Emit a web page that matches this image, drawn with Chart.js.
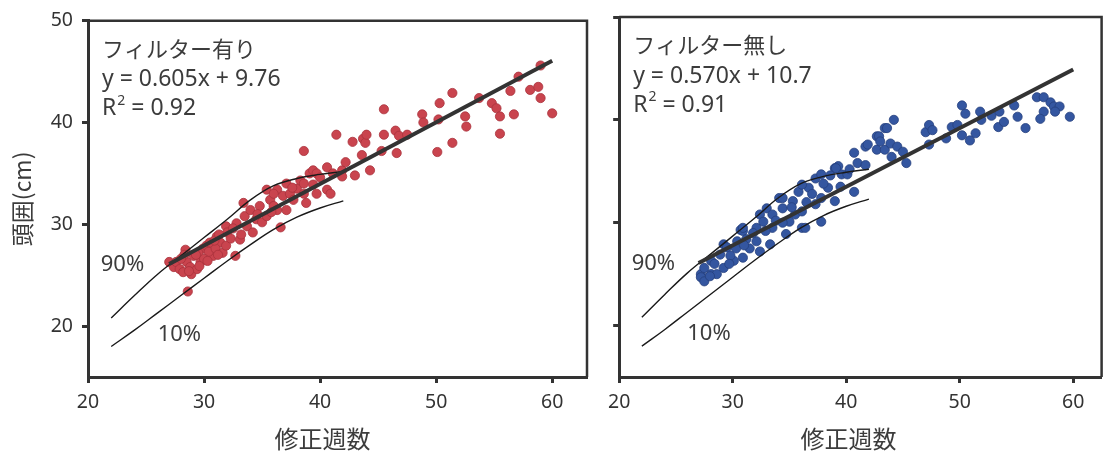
<!DOCTYPE html>
<html>
<head>
<meta charset="utf-8">
<script src="https://cdn.jsdelivr.net/npm/chart.js@4.4.0/dist/chart.umd.min.js"></script>
<style>
  html, body { margin: 0; padding: 0; background: #fff; overflow: hidden; width: 1107px; height: 454px; }
  #left { position: absolute; left: 0; top: 0; }
  #right { position: absolute; left: 600px; top: 0; }
</style>
</head>
<body>
<canvas id="left" width="600" height="454"></canvas>
<canvas id="right" width="507" height="454"></canvas>
<script>
// head circumference (cm) vs corrected weeks
const filterOnPoints = [
  [27.0,26.3],[27.4,25.8],[27.6,26.3],[27.9,25.6],[28.2,25.3],[28.4,27.5],[28.5,26.3],[28.3,27.0],
  [28.6,23.4],[28.8,25.8],[28.9,25.1],[29.1,26.9],[29.4,25.6],[29.7,26.3],[29.9,27.6],[29.5,27.2],
  [30.2,27.9],[30.5,28.2],[30.8,26.9],[30.4,27.3],[30.0,26.6],[31.1,28.8],[31.4,28.2],[31.0,27.6],
  [31.6,27.2],[31.9,29.8],[31.9,27.9],[32.0,29.2],[32.3,28.6],[32.8,30.1],[32.7,26.9],[33.1,28.5],
  [33.4,32.1],[33.7,29.8],[33.5,30.8],[34.0,31.4],[34.2,29.2],[34.5,30.5],[34.8,31.8],[35.0,30.2],
  [35.4,33.4],[35.4,30.8],[35.7,32.4],[36.0,31.8],[36.3,33.4],[36.3,31.4],[36.6,29.7],[36.8,32.8],
  [37.1,34.0],[37.1,31.4],[37.4,33.0],[37.7,32.4],[38.0,33.5],[38.3,34.3],[38.6,33.0],[38.6,34.0],
  [38.8,32.1],[39.1,35.0],[39.4,33.9],[39.4,35.3],[39.7,33.0],[39.7,35.0],[40.0,34.6],[40.6,35.6],
  [40.6,33.4],[40.9,33.0],[41.1,35.0],[41.9,35.3],[38.6,37.2],[41.4,38.8],[41.9,34.7],[42.2,36.1],
  [42.8,38.1],[43.0,34.8],[43.6,36.8],[43.7,38.4],[43.9,38.0],[44.0,38.8],[44.3,35.3],[45.3,37.2],
  [45.5,38.8],[45.5,41.3],[46.5,39.2],[46.6,37.0],[46.8,38.7],[47.5,38.8],[48.8,40.8],[48.9,40.0],
  [50.1,37.1],[50.2,40.3],[50.3,41.9],[51.4,42.9],[51.4,38.0],[52.5,40.6],[52.6,39.6],[53.7,42.4],
  [54.8,41.9],[55.2,41.4],[55.5,40.6],[55.5,38.9],[56.4,43.1],[56.7,40.8],[57.1,44.5],[58.1,43.2],
  [58.8,43.5],[59.0,42.4],[59.0,45.6],[60.0,40.9],
  [30.9,28.4],[32.5,29.6],[33.2,29.0],[34.6,31.0],[35.8,31.2],[36.0,33.0],[37.6,33.6],[31.3,29.0],
  [29.3,27.0],[28.0,26.6],[28.7,25.4],[29.6,25.9],[30.3,26.4],[31.2,27.0]
];

const filterOffPoints = [
  [27.2,25.0],[27.2,24.7],[27.5,24.3],[27.5,25.6],[28.1,26.3],[28.1,25.0],[28.6,25.0],[28.9,26.9],
  [29.2,25.6],[29.2,27.9],[29.5,27.6],[30.1,26.3],[30.4,28.2],[30.7,29.3],[30.9,29.2],[30.9,26.6],
  [30.9,29.5],[31.5,27.5],[32.1,29.5],[32.1,28.2],[32.4,27.2],[32.4,30.8],[32.7,30.1],[33.0,31.4],
  [33.3,27.9],[33.5,30.8],[33.5,29.5],[34.1,32.4],[34.4,31.4],[34.7,28.9],[35.0,30.1],[35.3,32.1],
  [35.5,30.8],[35.8,33.0],[36.1,31.1],[36.1,29.5],[36.4,29.5],[36.7,33.4],[37.3,34.3],[37.3,31.8],
  [37.8,32.4],[37.8,30.1],[38.4,33.4],[39.0,32.1],[39.0,35.3],[39.3,35.5],[39.6,34.7],[40.1,34.7],
  [40.7,33.0],[40.7,36.8],[41.0,35.8],[41.7,37.4],[42.7,38.4],[39.1,35.3],[41.9,37.6],[41.7,35.6],
  [42.7,37.1],[42.9,38.4],[43.0,37.9],[43.4,37.1],[43.4,39.2],[43.6,39.2],[43.9,37.7],[44.0,36.4],
  [44.2,40.0],[44.5,37.4],[45.0,36.9],[45.3,35.8],[47.0,38.8],[47.3,39.5],[47.6,39.0],[47.3,37.6],
  [48.8,38.2],[49.3,39.3],[49.8,39.5],[50.2,41.4],[50.5,40.6],[50.2,38.5],[50.9,38.0],[51.4,38.7],
  [51.8,40.8],[51.9,40.0],[52.8,40.4],[53.4,39.3],[53.5,40.8],[53.9,39.8],[54.8,41.4],[55.1,40.3],
  [55.8,39.2],[56.8,42.2],[57.4,42.2],[58.0,41.7],[58.3,41.3],[58.8,41.3],[58.4,40.8],[57.4,40.8],
  [57.1,40.1],[59.7,40.3],
  [28.4,26.0],[29.8,26.8],[30.3,27.5],[31.2,28.4],[31.8,29.0],[32.9,29.2],[33.8,30.2],[34.4,30.0],
  [35.2,31.5],[36.5,32.0],[37.0,32.8],[38.0,33.8],[38.6,34.6],[39.5,33.5],[40.3,35.2],[29.7,26.0],
  [28.0,24.8],[31.0,27.8],[34.4,32.4],[36.1,33.7],[37.8,34.7]
];

// reference percentile curves
const percentileWeeks = [22, 24, 26, 28, 30, 32, 34, 36, 38, 40, 42];
const percentile90 = [20.8, 23.0, 25.1, 26.9, 28.7, 30.5, 32.4, 33.8, 34.5, 34.9, 35.2];
const percentile10 = [18.0, 19.6, 21.3, 23.0, 24.7, 26.4, 28.0, 29.5, 30.7, 31.6, 32.3];

// regression lines
const fitRange = [27, 60];
const fitSlope = [0.605, 0.570];
const fitIntercept = [9.76, 10.7];

const panelTitles = ['フィルター有り', 'フィルター無し'];
const equationLabels = ['y = 0.605x + 9.76', 'y = 0.570x + 10.7'];
const r2Labels = ['0.92', '0.91'];
const xTicks = [20, 30, 40, 50, 60];
const yTicks = [20, 30, 40, 50];

const INK = '#333';
const TXT = '#3c3c3c';
const LATIN = '"Noto Sans", "Open Sans", sans-serif';
const CJK = '"Noto Sans CJK JP", "Noto Sans", sans-serif';

const toXY = pts => pts.map(p => ({ x: p[0], y: p[1] }));
const curve = vals => percentileWeeks.map((w, i) => ({ x: w, y: vals[i] }));

const panelDecor = {
  id: 'panelDecor',
  afterDatasetsDraw(chart, args, o) {
    const { ctx, chartArea: a, scales: { x, y } } = chart;
    ctx.save();
    ctx.strokeStyle = INK;
    ctx.lineWidth = 2.5;
    ctx.beginPath();
    ctx.moveTo(a.left, a.top);
    ctx.lineTo(a.right, a.top);
    ctx.lineTo(a.right, a.bottom);
    ctx.stroke();

    ctx.fillStyle = TXT;
    ctx.textBaseline = 'middle';
    ctx.textAlign = 'left';
    const tx = a.left + 14;
    ctx.font = '22px ' + CJK;
    ctx.fillText(o.title, tx, a.top + 28);
    ctx.font = '23px ' + LATIN;
    ctx.fillText(o.eq, tx, a.top + 59);
    ctx.fillText('R', tx, a.top + 88);
    let w = ctx.measureText('R').width;
    ctx.font = '14px ' + LATIN;
    ctx.fillText('2', tx + w + 1, a.top + 80);
    w += ctx.measureText('2').width + 1;
    ctx.font = '23px ' + LATIN;
    ctx.fillText(' = ' + o.r2, tx + w, a.top + 88);

    ctx.font = '22px ' + LATIN;
    ctx.fillText('90%', x.getPixelForValue(21.1), y.getPixelForValue(26.0));
    ctx.fillText('10%', x.getPixelForValue(26.0), y.getPixelForValue(19.2));

    ctx.font = '24px ' + CJK;
    ctx.textAlign = 'center';
    ctx.fillText('修正週数', x.getPixelForValue(40.2), 439);
    ctx.restore();
  }
};

function makePanel(id, idx, points, color, edge, showYLabels) {
  const a = fitSlope[idx], b = fitIntercept[idx];
  const fit = fitRange.map(v => ({ x: v, y: a * v + b }));
  new Chart(document.getElementById(id), {
    type: 'scatter',
    data: {
      datasets: [
        { data: fit, showLine: true, borderColor: INK, borderWidth: 4, pointRadius: 0 },
        { data: curve(percentile90), showLine: true, borderColor: '#1a1a1a', borderWidth: 1.4, pointRadius: 0, tension: 0.4 },
        { data: curve(percentile10), showLine: true, borderColor: '#1a1a1a', borderWidth: 1.4, pointRadius: 0, tension: 0.4 },
        { data: toXY(points), backgroundColor: color, borderColor: edge, borderWidth: 0.8, pointRadius: 4.6 }
      ]
    },
    options: {
      responsive: false,
      animation: false,
      layout: { padding: { left: 0, right: showYLabels ? 13 : 1, top: 17, bottom: 0 } },
      plugins: {
        legend: { display: false },
        tooltip: { enabled: false },
        panelDecor: { title: panelTitles[idx], eq: equationLabels[idx], r2: r2Labels[idx] }
      },
      scales: {
        x: {
          type: 'linear', min: 20, max: showYLabels ? 63 : 62.5,
          ticks: { stepSize: 10, includeBounds: false, color: INK, font: { size: 19.5, family: LATIN }, padding: 8, maxRotation: 0 },
          afterBuildTicks: s => { s.ticks = s.ticks.filter(t => xTicks.includes(t.value)); },
          afterFit: s => { s.height = 77; },
          grid: { drawOnChartArea: false, drawTicks: true, tickLength: 6, tickWidth: 3, color: INK },
          border: { display: true, width: 3, color: INK }
        },
        y: {
          type: 'linear', min: 15, max: 50,
          ticks: { stepSize: 10, includeBounds: false, display: showYLabels, color: INK, font: { size: 19.5, family: LATIN }, padding: 9 },
          afterBuildTicks: s => { s.ticks = s.ticks.filter(t => yTicks.includes(t.value)); },
          afterFit: s => { s.width = showYLabels ? 88 : 13; },
          grid: { drawOnChartArea: false, drawTicks: true, tickLength: 6, tickWidth: 3, color: INK },
          border: { display: true, width: 3, color: INK },
          title: {
            display: showYLabels, text: '頭囲(cm)', color: TXT,
            font: { size: 23, family: CJK, lineHeight: 1.2 }, padding: { top: 8, bottom: 0 }
          }
        }
      }
    },
    plugins: [panelDecor]
  });
}

makePanel('left', 0, filterOnPoints, 'rgb(201,68,78)', 'rgb(170,50,60)', true);
makePanel('right', 1, filterOffPoints, 'rgb(52,86,160)', 'rgb(38,64,125)', false);
</script>
</body>
</html>
